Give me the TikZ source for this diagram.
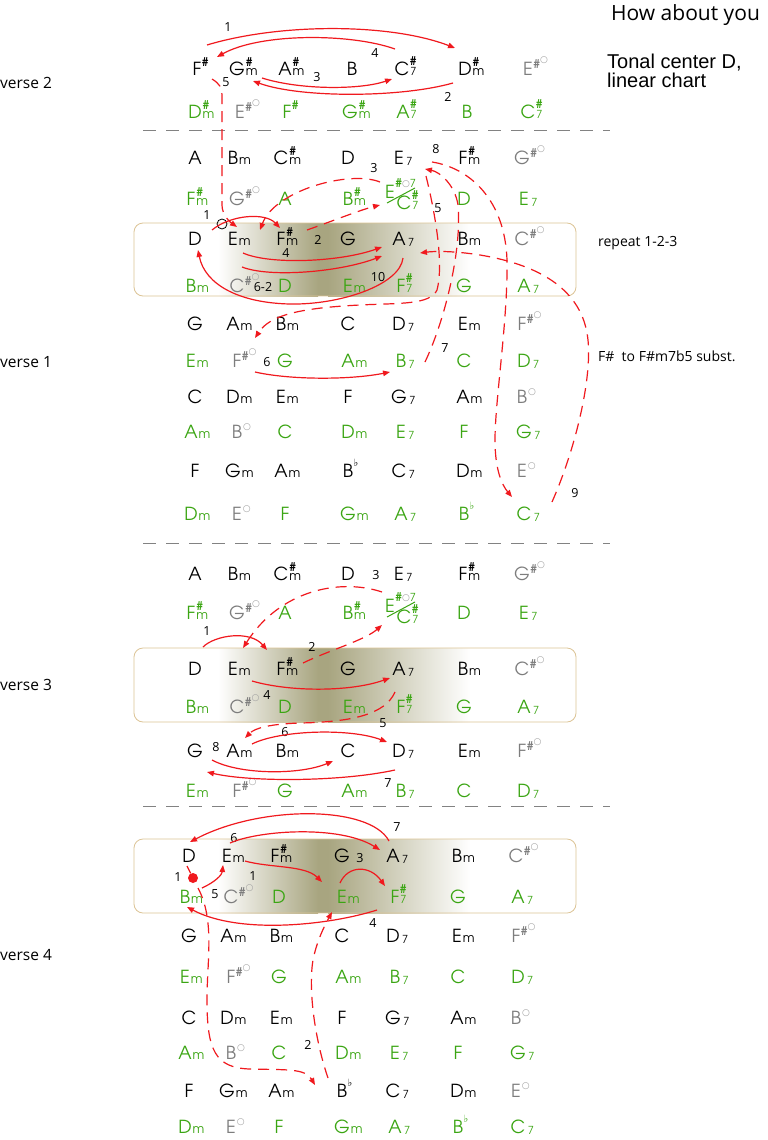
\documentclass[tikz,border=0pt]{standalone}
\usepackage{fontspec}
\usetikzlibrary{arrows.meta,calc}
\setmainfont{Open Sans}
\newfontfamily\chf{texgyreadventor}[Extension=.otf,UprightFont=*-regular,BoldFont=*-bold]
\newfontfamily\symf{DejaVu Sans}
\newfontfamily\arf{Liberation Sans}

\definecolor{cgreen}{RGB}{58,165,18}
\definecolor{cgray}{RGB}{125,125,125}
\definecolor{cdim}{RGB}{160,160,160}
\definecolor{cred}{RGB}{240,25,30}
\definecolor{olv}{RGB}{168,165,128}
\definecolor{boxedge}{RGB}{220,196,150}
\definecolor{sepgray}{RGB}{130,130,130}

\newcommand\shp{{\fontsize{12}{12}\selectfont\bfseries\#}}
\newcommand\sev{\hspace{2.5pt}\raisebox{-1pt}{\fontsize{11}{11}\selectfont 7}}
\newcommand\sevb{{\fontsize{11}{11}\selectfont 7}}
\newcommand\dimoa{{\color{cdim}\symf\fontsize{9}{9}\selectfont\raisebox{6pt}{○}}}
\newcommand\dimob{{\color{cdim}\symf\fontsize{9}{9}\selectfont\raisebox{4pt}{○}}}
\newcommand\flt{{\symf\fontsize{10}{10}\selectfont\raisebox{2pt}{♭}}}
\newcommand\chd[3]{#1\rlap{\hspace{1pt}\raisebox{9pt}{#2}}\rlap{\hspace{1pt}\fontsize{12.5}{12.5}\selectfont #3}}
\newcommand\cha[2]{#1\rlap{\hspace{0.5pt}\raisebox{9pt}{#2}}}
\newcommand\cM[1]{\chd{#1}{}{m}}
\newcommand\cSv[1]{#1\rlap{\sev}}
\newcommand\cSm[1]{\chd{#1}{\shp}{m}}
\newcommand\cSs[1]{#1\rlap{\hspace{0.5pt}\raisebox{9.5pt}{\shp}}\rlap{\hspace{1pt}\sevb}}
\newcommand\cSh[1]{\cha{#1}{\shp}}
\newcommand\cFl[1]{\cha{#1}{\flt}}
\newcommand\gSd[1]{{\color{cgray}#1\rlap{\hspace{0.5pt}\raisebox{7pt}{\shp\dimoa}}}}
\newcommand\gDm[1]{{\color{cgray}#1\rlap{\hspace{1pt}\raisebox{5pt}{\dimob}}}}

\newcommand\rowT{197/\cSh{F}, 237/\cSm{G}, 285/\cSm{A}, 352/B, 402/\cSs{C}, 465/\cSm{D}, 528/\gSd{E}}
\newcommand\rowU{195/\cSm{D}, 240/\gSd{E}, 287/\cSh{F}, 350/\cSm{G}, 403/\cSs{A}, 467/B, 528/\cSs{C}}
\newcommand\rowA{195/A, 233/\cM{B}, 281/\cSm{C}, 348/D, 399/\cSv{E}, 463/\cSm{F}, 522/\gSd{G}}
\newcommand\rowB{191/\cSm{F}, 237/\gSd{G}, 285/A, 348/\cSm{B}, 464/D, 524/\cSv{E}}
\newcommand\rowC{195/D, 233/\cM{E}, 281/\cSm{F}, 348/G, 399/\cSv{A}, 463/\cM{B}, 522/\gSd{C}}
\newcommand\rowD{191/\cM{B}, 237/\gSd{C}, 285/D, 348/\cM{E}, 401/\cSs{F}, 464/G, 524/\cSv{A}}
\newcommand\rowE{195/G, 233/\cM{A}, 281/\cM{B}, 348/C, 399/\cSv{D}, 463/\cM{E}, 522/\gSd{F}}
\newcommand\rowF{191/\cM{E}, 237/\gSd{F}, 285/G, 348/\cM{A}, 401/\cSv{B}, 464/C, 524/\cSv{D}}
\newcommand\rowG{195/C, 233/\cM{D}, 281/\cM{E}, 348/F, 399/\cSv{G}, 463/\cM{A}, 522/\gDm{B}}
\newcommand\rowH{191/\cM{A}, 237/\gDm{B}, 285/C, 348/\cM{D}, 401/\cSv{E}, 464/F, 524/\cSv{G}}
\newcommand\rowI{195/F, 233/\cM{G}, 281/\cM{A}, 348/\cFl{B}, 399/\cSv{C}, 463/\cM{D}, 522/\gDm{E}}
\newcommand\rowJ{191/\cM{D}, 237/\gDm{E}, 285/F, 348/\cM{G}, 401/\cSv{A}, 464/\cFl{B}, 524/\cSv{C}}

\newcommand\crow[4]{\foreach \xx/\cc [count=\ii] in #4 {\node[#3] (#1\ii) at (\xx,#2) {\cc};}}
\newcommand\gbox[2]{%
  \shade[left color=white,right color=olv] (218,#1) rectangle (318,#2);
  \fill[olv] (318,#1) rectangle (328,#2);
  \shade[left color=olv,right color=white] (328,#1) rectangle (470,#2);
  \draw[boxe] (134,#1) rectangle (576,#2);}
\newcommand\compound[2]{% prefix, baseline
  \node[chg] (#1E) at (390,#2-7) {E\rlap{\hspace{0.5pt}\raisebox{11pt}{\shp{\color{cdim}\symf\fontsize{9}{9}\selectfont\raisebox{1pt}{○}}{\fontsize{11}{11}\selectfont 7}}}};
  \node[chg] (#1C) at (404,#2+4) {\cSs{C}};
  \draw[cgreen, line width=1pt] ($(#1E.base)+(-3,5)$) -- ($(#1E.base)+(25,-10)$);}

\tikzset{
  ch/.style={anchor=base, inner sep=0.5pt, font=\chf\fontsize{18}{18}\selectfont},
  chk/.style={ch, text=black},
  chg/.style={ch, text=cgreen},
  num/.style={font=\fontsize{12.5}{12.5}\selectfont, inner sep=0pt},
  lab/.style={anchor=west, inner sep=0pt},
  rl/.style={cred, line width=1.2pt},
  ra/.style={rl, -{Triangle[length=7pt,width=5.5pt]}},
  rd/.style={rl, dash pattern=on 11pt off 7pt},
  rda/.style={rd, -{Triangle[length=7pt,width=5.5pt]}},
  sepl/.style={sepgray, line width=0.9pt, dash pattern=on 13pt off 10pt},
  boxe/.style={draw=boxedge, line width=0.8pt, rounded corners=9pt},
}

\begin{document}
\begin{tikzpicture}[x=1pt,y=-1pt]
\path[use as bounding box, fill=white] (0,0) rectangle (768,1140);

% boxes
\gbox{223}{296}
\gbox{648}{722}
\gbox{839}{913}

% separators
\draw[sepl] (143,130) -- (610,130);
\draw[sepl] (143,543) -- (610,543);
\draw[sepl] (143,806) -- (610,806);

% texts
\node[lab, font=\fontsize{21}{21}\selectfont] (title) at (611,15) {How about you};
\node[anchor=base west, inner sep=0pt, font=\arf\fontsize{20}{20}\selectfont] (tc1) at (607,68) {Tonal center D,};
\node[anchor=base west, inner sep=0pt, font=\arf\fontsize{20}{20}\selectfont] (tc2) at (607,88) {linear chart};
\node[lab, font=\fontsize{14}{14}\selectfont] (rep) at (598,243) {repeat 1-2-3};
\node[lab, font=\fontsize{14}{14}\selectfont] (subs) at (598,356) {F\#\ \ to F\#m7b5 subst.};
\node[lab, font=\fontsize{15.5}{15.5}\selectfont] (vs2) at (0,83) {verse 2};
\node[lab, font=\fontsize{15.5}{15.5}\selectfont] (vs1) at (0,362) {verse 1};
\node[lab, font=\fontsize{15.5}{15.5}\selectfont] (vs3) at (0,685) {verse 3};
\node[lab, font=\fontsize{15.5}{15.5}\selectfont] (vs4) at (0,955) {verse 4};

% verse 2
\crow{t}{75}{chk}{\rowT}
\crow{u}{118}{chg}{\rowU}
% verse 1
\crow{pa}{164}{chk}{\rowA}
\crow{pb}{205}{chg}{\rowB}
\compound{pb}{205}
\crow{pc}{245}{chk}{\rowC}
\crow{pd}{292}{chg}{\rowD}
\crow{pe}{330}{chk}{\rowE}
\crow{pf}{367}{chg}{\rowF}
\crow{pg}{403}{chk}{\rowG}
\crow{ph}{438}{chg}{\rowH}
\crow{pi}{477}{chk}{\rowI}
\crow{pj}{520}{chg}{\rowJ}
% verse 3
\crow{qa}{580}{chk}{\rowA}
\crow{qb}{619}{chg}{\rowB}
\compound{qb}{619}
\crow{qc}{675}{chk}{\rowC}
\crow{qd}{713}{chg}{\rowD}
\crow{qe}{757}{chk}{\rowE}
\crow{qf}{797}{chg}{\rowF}
% verse 4
\begin{scope}[xshift=-6pt]
\crow{rc}{862}{chk}{\rowC}
\crow{rd}{903}{chg}{\rowD}
\crow{re}{942}{chk}{\rowE}
\crow{rf}{983}{chg}{\rowF}
\crow{rg}{1024}{chk}{\rowG}
\crow{rh}{1059}{chg}{\rowH}
\crow{ri}{1097}{chk}{\rowI}
\crow{rj}{1133}{chg}{\rowJ}
\end{scope}

% number labels
\foreach \xx/\yy/\tt [count=\k] in {228/27/1, 375/53/4, 317/77/3, 448/97/2, 226/82/5,
  207/215/1, 318/240/2, 374/168/3, 286/253/4, 438/208/5, 263/287/6-2, 378/277/10, 267/362/6, 445/348/7, 436/149/8, 575/493/9,
  207/631/1, 312/647/2, 376/575/3, 267/695/4, 383/723/5, 285/732/6, 388/783/7, 216/747/8,
  178/877/1, 253/876/1, 234/838/6, 397/827/7, 360/858/3, 373/923/4, 215/894/5, 308/1045/2}
  {\node[num] (n\k) at (\xx,\yy) {\tt};}

% ---- verse 2 arrows
\draw[ra] ($(t1.base)+(10,-30)$) .. controls (280,23) and (390,23) .. ($(t6.base)+(-10,-27)$);
\draw[ra] ($(t5.base)+(-7,-26)$) .. controls (350,33) and (260,33) .. ($(t1.base)+(20,-18)$);
\draw[ra] ($(t2.base)+(25,3)$) .. controls (300,90) and (360,90) .. ($(t5.base)+(-10,4)$);
\draw[ra] ($(t6.base)+(-12,8)$) .. controls (400,98) and (300,98) .. ($(t2.base)+(16,6)$);
\draw[rda] ($(t1.base)+(15,4)$) .. controls (220,84) and (222,88) .. (222,95) -- (222,205) .. controls (222,215) and (230,222) .. ($(pc2.base)+(4,-18)$);

% ---- verse 1 arrows
\node[circle, draw=black, line width=0.8pt, minimum size=10pt, inner sep=0pt] (circ) at (222,224) {};
\draw[ra] ($(pc1.base)+(17,-15)$) .. controls (230,215) and (265,212) .. ($(pc3.base)+(-1,-17)$);
\draw[rda] ($(pc3.base)+(26,-15)$) .. controls (330,222) and (360,210) .. ($(pbC.base)+(-24,-4)$);
\draw[rda] ($(pbE.base)+(-10,-16)$) .. controls (350,170) and (275,190) .. ($(pc2.base)+(27,-15)$);
\draw[ra] ($(pc2.base)+(10,8)$) .. controls (270,265) and (340,262) .. ($(pc5.base)+(-17,2)$);
\draw[ra] ($(pc2.base)+(9,22)$) .. controls (270,278) and (340,272) .. ($(pc5.base)+(-17,11)$);
\draw[ra] ($(pc5.base)+(4,13)$) .. controls (400,285) and (340,305) .. (290,304) .. controls (240,303) and (205,285) .. ($(pc1.base)+(3,5)$);
\draw[rda] ($(pa5.base)+(27,12)$) .. controls (432,200) and (445,260) .. (437,290) .. controls (430,305) and (400,303) .. (360,305) .. controls (300,308) and (270,315) .. ($(pf2.base)+(18,-29)$);
\draw[ra] ($(pf2.base)+(18,5)$) .. controls (290,380) and (350,380) .. ($(pf5.base)+(-11,5)$);
\draw[rda] ($(pf5.base)+(24,-5)$) .. controls (445,320) and (462,250) .. (458,205) .. controls (455,185) and (440,172) .. ($(pa5.base)+(26,5)$);
\draw[rda] ($(pa5.base)+(33,-2)$) .. controls (470,168) and (505,200) .. (507,260) .. controls (508,320) and (495,400) .. (495,440) .. controls (495,470) and (502,485) .. ($(pj7.base)+(-12,-23)$);
\draw[rda] ($(pj7.base)+(28,-18)$) .. controls (575,450) and (592,380) .. (588,340) .. controls (583,290) and (540,265) .. (480,255) .. controls (455,251) and (435,251) .. ($(pc5.base)+(21,8)$);

% ---- verse 3 arrows
\draw[ra] ($(qc1.base)+(8,-28)$) .. controls (215,635) and (250,630) .. ($(qc3.base)+(-14,-25)$);
\draw[rda] ($(qbE.base)+(-8,-20)$) .. controls (340,578) and (280,590) .. ($(qc2.base)+(10,-27)$);
\draw[rda] ($(qc3.base)+(22,-12)$) .. controls (330,650) and (365,640) .. ($(qbC.base)+(-22,2)$);
\draw[ra] ($(qc2.base)+(19,6)$) .. controls (290,692) and (350,692) .. ($(qc5.base)+(-9,3)$);
\draw[rda] ($(qc5.base)+(-4,17)$) .. controls (385,715) and (350,722) .. (300,723) .. controls (270,724) and (255,728) .. ($(qe2.base)+(12,-19)$);
\draw[ra] ($(qe2.base)+(19,-13)$) .. controls (280,730) and (350,728) .. ($(qe5.base)+(-12,-15)$);
\draw[ra] ($(qe5.base)+(-4,13)$) .. controls (340,782) and (250,782) .. ($(qe1.base)+(12,15)$);
\draw[ra] ($(qe1.base)+(17,3)$) .. controls (240,775) and (300,775) .. ($(qe4.base)+(-15,4)$);

% ---- verse 4 arrows
\node[circle, fill=cred, inner sep=0pt, minimum size=10pt] (rdot) at (193,878) {};
\draw[rl] ($(rc1.base)+(-2,4)$) -- (rdot);
\draw[ra] ($(rd1.base)+(17,-15)$) .. controls (215,882) and (222,875) .. ($(rc2.base)+(-4,3)$);
\draw[ra] ($(rc2.base)+(3,-19)$) .. controls (260,830) and (340,825) .. ($(rc5.base)+(-13,-12)$);
\draw[ra] ($(rc5.base)+(-4,-21)$) .. controls (370,805) and (260,805) .. ($(rc1.base)+(1,-20)$);
\draw[ra] ($(rc2.base)+(18,-1)$) .. controls (270,868) and (305,865) .. ($(rd4.base)+(-20,-21)$);
\draw[ra] ($(rd4.base)+(-2,-20)$) .. controls (348,865) and (370,865) .. ($(rd5.base)+(-10,-17)$);
\draw[ra] ($(rd5.base)+(-18,7)$) .. controls (330,925) and (240,935) .. ($(rd1.base)+(2,4)$);
\draw[rda] ($(rd1.base)+(13,-15)$) .. controls (215,920) and (207,960) .. (207,1000) .. controls (207,1050) and (215,1068) .. (250,1069) .. controls (285,1070) and (305,1068) .. ($(ri4.base)+(-27,-12)$);
\draw[rda] ($(ri4.base)+(-14,-19)$) .. controls (315,1040) and (308,990) .. (313,960) .. controls (317,940) and (325,925) .. ($(rd4.base)+(-10,9)$);
\end{tikzpicture}
\end{document}
